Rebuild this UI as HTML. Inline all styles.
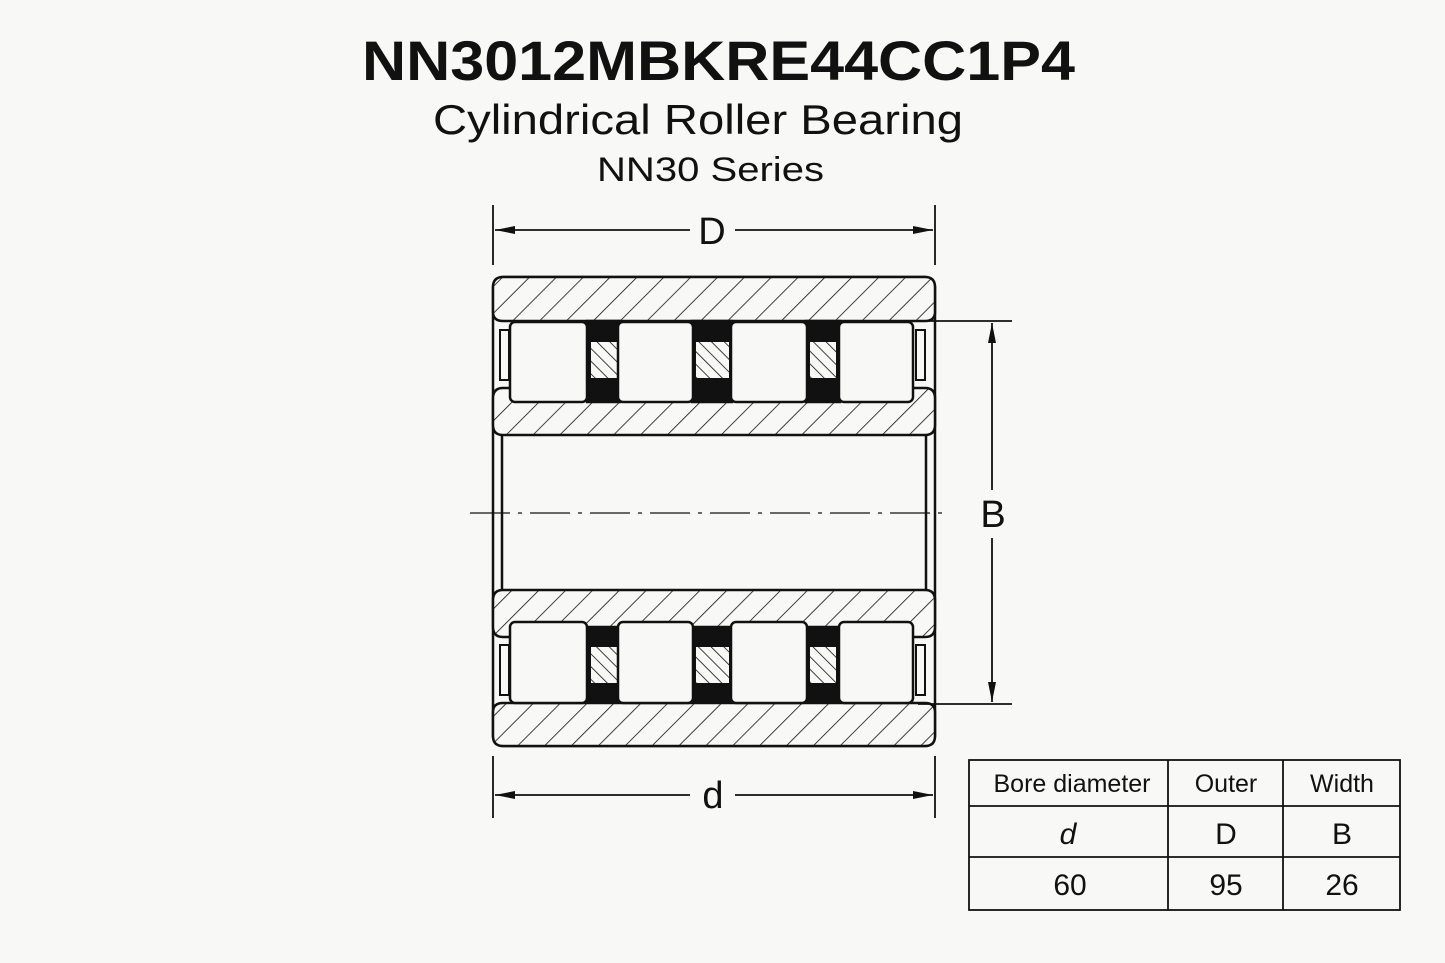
<!DOCTYPE html>
<html><head><style>
html,body{margin:0;padding:0;background:#f8f8f6;}
svg{display:block;}
text{font-family:"Liberation Sans",sans-serif;fill:#111;}
</style></head><body>
<svg width="1445" height="963" viewBox="0 0 1445 963" xmlns="http://www.w3.org/2000/svg">
<defs>
<pattern id="h" patternUnits="userSpaceOnUse" width="19" height="19" patternTransform="rotate(45)">
<rect width="19" height="19" fill="#f8f8f6"/><line x1="0" y1="0" x2="0" y2="19" stroke="#111" stroke-width="1.6"/></pattern>
<pattern id="c" patternUnits="userSpaceOnUse" width="9" height="9" patternTransform="rotate(-45)">
<rect width="9" height="9" fill="#f8f8f6"/><line x1="0" y1="0" x2="0" y2="9" stroke="#111" stroke-width="1.6"/></pattern>
<marker id="a" viewBox="0 0 20 8" refX="20" refY="4" markerWidth="20" markerHeight="8" markerUnits="userSpaceOnUse" orient="auto-start-reverse"><path d="M0,0 L20,4 L0,8 Z" fill="#111"/></marker>
</defs>
<rect width="1445" height="963" fill="#f8f8f6"/>
<text x="362" y="80" font-size="56" font-weight="bold" textLength="713" lengthAdjust="spacingAndGlyphs">NN3012MBKRE44CC1P4</text>
<text x="433" y="134" font-size="42" textLength="530" lengthAdjust="spacingAndGlyphs">Cylindrical Roller Bearing</text>
<text x="597" y="181" font-size="34" textLength="227" lengthAdjust="spacingAndGlyphs">NN30 Series</text>

<g stroke="#111" fill="none" stroke-width="2.5">
<rect x="493" y="277" width="442" height="469" rx="10"/>
<line x1="502" y1="435" x2="502" y2="590"/>
<line x1="926" y1="435" x2="926" y2="590"/>
</g>
<g stroke="#111" stroke-width="2.5">
<path d="M503,277 H925 Q935,277 935,287 V312 Q935,321 925,321 H503 Q493,321 493,312 V287 Q493,277 503,277Z" fill="url(#h)"/>
<path d="M503,388 H925 Q935,388 935,398 V425 Q935,435 925,435 H503 Q493,435 493,425 V398 Q493,388 503,388Z" fill="url(#h)"/>
<rect x="587" y="321" width="33" height="81" fill="#111"/>
<rect x="692" y="321" width="40" height="81" fill="#111"/>
<rect x="806" y="321" width="34" height="81" fill="#111"/>
<rect x="591" y="342" width="26" height="36" fill="url(#c)" stroke-width="0"/>
<rect x="696" y="342" width="33" height="36" fill="url(#c)" stroke-width="0"/>
<rect x="810" y="342" width="26" height="36" fill="url(#c)" stroke-width="0"/>
<rect x="510" y="322" width="77" height="80" rx="5" fill="#f8f8f6"/>
<rect x="618" y="322" width="75" height="80" rx="5" fill="#f8f8f6"/>
<rect x="731" y="322" width="76" height="80" rx="5" fill="#f8f8f6"/>
<rect x="839" y="322" width="74" height="80" rx="5" fill="#f8f8f6"/>
<rect x="500" y="330" width="9" height="50" fill="none" stroke-width="2"/>
<rect x="916" y="330" width="9" height="50" fill="none" stroke-width="2"/>
</g>
<g stroke="#111" stroke-width="2.5">
<path d="M503,590 H925 Q935,590 935,600 V627 Q935,637 925,637 H503 Q493,637 493,627 V600 Q493,590 503,590Z" fill="url(#h)"/>
<path d="M503,703 H925 Q935,703 935,712 V736 Q935,746 925,746 H503 Q493,746 493,736 V712 Q493,703 503,703Z" fill="url(#h)"/>
<rect x="587" y="627" width="33" height="75" fill="#111"/>
<rect x="692" y="627" width="40" height="75" fill="#111"/>
<rect x="806" y="627" width="34" height="75" fill="#111"/>
<rect x="591" y="647" width="26" height="36" fill="url(#c)" stroke-width="0"/>
<rect x="696" y="647" width="33" height="36" fill="url(#c)" stroke-width="0"/>
<rect x="810" y="647" width="26" height="36" fill="url(#c)" stroke-width="0"/>
<rect x="510" y="622" width="77" height="81" rx="5" fill="#f8f8f6"/>
<rect x="618" y="622" width="75" height="81" rx="5" fill="#f8f8f6"/>
<rect x="731" y="622" width="76" height="81" rx="5" fill="#f8f8f6"/>
<rect x="839" y="622" width="74" height="81" rx="5" fill="#f8f8f6"/>
<rect x="500" y="645" width="9" height="50" fill="none" stroke-width="2"/>
<rect x="916" y="645" width="9" height="50" fill="none" stroke-width="2"/>
</g>
<line x1="470" y1="513" x2="945" y2="513" stroke="#111" stroke-width="1.3" stroke-dasharray="40,8,4,8"/>
<g stroke="#111" stroke-width="1.8" fill="none">
<line x1="493" y1="205" x2="493" y2="265"/><line x1="935" y1="205" x2="935" y2="265"/>
<line x1="495" y1="230" x2="690" y2="230" marker-start="url(#a)"/>
<line x1="735" y1="230" x2="933" y2="230" marker-end="url(#a)"/>
<line x1="493" y1="756" x2="493" y2="818"/><line x1="935" y1="756" x2="935" y2="818"/>
<line x1="495" y1="795" x2="690" y2="795" marker-start="url(#a)"/>
<line x1="735" y1="795" x2="933" y2="795" marker-end="url(#a)"/>
<line x1="918" y1="321" x2="1012" y2="321"/><line x1="918" y1="704" x2="1012" y2="704"/>
<line x1="992" y1="323" x2="992" y2="490" marker-start="url(#a)"/>
<line x1="992" y1="538" x2="992" y2="702" marker-end="url(#a)"/>
</g>
<text x="712" y="244" font-size="38" text-anchor="middle">D</text>
<text x="713" y="808" font-size="38" text-anchor="middle">d</text>
<text x="993" y="527" font-size="38" text-anchor="middle">B</text>
<g stroke="#111" stroke-width="1.8" fill="none">
<rect x="969" y="760" width="431" height="150"/>
<line x1="1168" y1="760" x2="1168" y2="910"/><line x1="1283" y1="760" x2="1283" y2="910"/>
<line x1="969" y1="806" x2="1400" y2="806"/><line x1="969" y1="857" x2="1400" y2="857"/>
</g>
<g font-size="25" text-anchor="middle">
<text x="1072" y="792">Bore diameter</text>
<text x="1226" y="792">Outer</text>
<text x="1342" y="792">Width</text>
<text x="1068" y="844" font-size="30" font-style="italic">d</text>
<text x="1226" y="844" font-size="30">D</text>
<text x="1342" y="844" font-size="30">B</text>
<text x="1070" y="895" font-size="30">60</text>
<text x="1226" y="895" font-size="30">95</text>
<text x="1342" y="895" font-size="30">26</text>
</g>
</svg>
</body></html>
